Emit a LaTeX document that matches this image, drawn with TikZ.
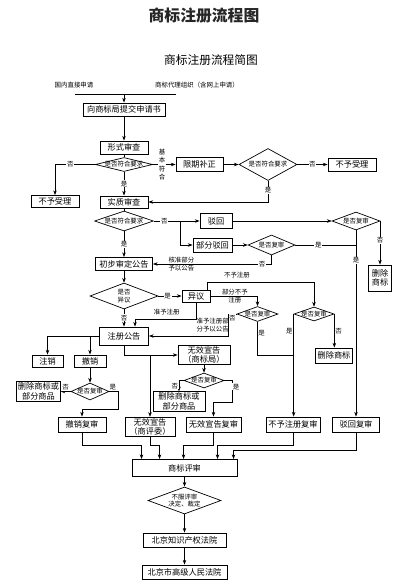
\documentclass[tikz,border=0pt]{standalone}
\usepackage{fontspec}
\setmainfont{Noto Sans CJK SC}
\usetikzlibrary{shapes.geometric,arrows.meta,calc}

\newcommand\titlefont{\fontsize{13.5}{15}\selectfont\bfseries}
\newcommand\subtitlefont{\fontsize{10}{12}\selectfont}
\newcommand\boxfont{\fontsize{7}{8}\selectfont}
\newcommand\labfont{\fontsize{5.5}{7}\selectfont}
\newcommand\dfont{\fontsize{5.5}{6.5}\selectfont}

\tikzset{
  dims/.style 2 args={minimum width=#1*0.03cm, minimum height=#2*0.03cm},
  stepbox/.style={draw, line width=0.8pt, inner sep=1pt, font=\boxfont, align=center},
  judge/.style={diamond, draw, line width=0.6pt, inner sep=0pt,
    label={[font=\dfont, align=center]center:{#1}}},
  lbl/.style={font=\labfont, fill=white, inner sep=0.6pt},
}

\begin{document}
\begin{tikzpicture}[x=0.03cm, y=-0.03cm, >={Stealth[length=4pt,width=3pt]}, line width=0.5pt]
    \useasboundingbox (0,0) rectangle (408,588);
    % Titoli
    \node[font=\titlefont, text=black!85] (title) at (204,16) {商标注册流程图};
    \node[font=\subtitlefont] (subtitle) at (211,60) {商标注册流程简图};
    % Ingresso domande
    \node[font=\labfont] (direct) at (74,85) {国内直接申请};
    \node[font=\labfont] (agency) at (197,85) {商标代理组织（含网上申请）};
    \coordinate (srcL) at (75,94);
    \coordinate (srcR) at (176,94);
    \coordinate (srcM) at (124,94);

    % Blocchi esame
    \node[stepbox, dims={82}{13}] (apply) at (124,109.5) {向商标局提交申请书};
    \node[stepbox, dims={48}{13}] (formal) at (124,147.5) {形式审查};
    \node[judge={是否符合要求}, dims={57}{14}] (d1) at (124,164.5) {};
    \node[stepbox, dims={48}{12}] (reject1) at (55,201.5) {不予受理};
    \node[stepbox, dims={48}{12}] (subst) at (124,202) {实质审查};
    \node[stepbox, dims={47}{14}] (correct) at (199.5,164.5) {限期补正};
    \node[judge={是否符合要求}, dims={58}{32}] (d2) at (268,164.5) {};
    \node[stepbox, dims={48}{13}] (reject2) at (352,164.5) {不予受理};
    \node[judge={是否符合要求}, dims={59}{20}] (d3) at (124,221) {};
    \node[stepbox, dims={32}{15}] (rej) at (216,221) {驳回};
    \node[stepbox, dims={39}{14}] (part) at (212.5,245) {部分驳回};
    \node[judge={是否复审}, dims={48}{18}] (d4) at (356,221) {};
    \node[stepbox, dims={23}{26}] (del1) at (380,278) {删除\\商标};
    \node[judge={是否复审}, dims={47}{20}] (d5) at (271.5,245) {};
    \node[stepbox, dims={57}{13}] (prelim) at (124,264) {初步审定公告};
    \node[judge={是否\\异议}, dims={68}{26}] (d6) at (124,296) {};
    \node[stepbox, dims={28}{12}] (oppose) at (196,296) {异议};
    \node[judge={是否复审}, dims={41}{15}] (d7) at (257.5,314) {};
    \node[judge={是否复审}, dims={40}{14}] (d8) at (314,314) {};
    \node[stepbox, dims={37}{15}] (del2) at (334,355.5) {删除商标};

    % Blocchi registrazione
    \node[stepbox, dims={49}{18}] (reg) at (124,336) {注册公告};
    \node[stepbox, dims={31}{12}] (cancel) at (47.5,361) {注销};
    \node[stepbox, dims={32}{12}] (revoke) at (90,361) {撤销};
    \node[judge={是否复审}, dims={38}{17}] (d9) at (90,391.5) {};
    \node[stepbox, dims={43}{20}] (delA) at (38.5,391.5) {删除商标或\\部分商品};
    \node[stepbox, dims={48}{15}] (revokeRev) at (82,424.5) {撤销复审};
    \node[stepbox, dims={52}{18}] (invalidO) at (204,355) {无效宣告\\（商标局）};
    \node[judge={是否复审}, dims={40}{15}] (d10) at (204,380.5) {};
    \node[stepbox, dims={52}{17}] (delB) at (179,401.5) {删除商标或\\部分商品};
    \node[stepbox, dims={55}{15}] (invalidRev) at (213.5,424.5) {无效宣告复审};
    \node[stepbox, dims={50}{19}] (invalidB) at (150,427) {无效宣告\\（商评委）};
    \node[stepbox, dims={54}{15}] (refuseRev) at (293,424.5) {不予注册复审};
    \node[stepbox, dims={47}{15}] (rejectRev) at (356,424.5) {驳回复审};

    % Blocchi finali
    \node[stepbox, dims={105}{17}] (board) at (184.5,468) {商标评审};
    \node[judge={不服评审\\决定、裁定}, dims={73}{27}] (d11) at (184.5,500.5) {};
    \node[stepbox, dims={83}{14}] (court1) at (184.5,540) {北京知识产权法院};
    \node[stepbox, dims={85}{14}] (court2) at (184.5,572) {北京市高级人民法院};

    % Frecce esame
    \draw (srcL) -- (srcR);
    \draw[->] (srcM) -- (apply);
    \draw[->] (apply) -- (formal);
    \draw (formal) -- (d1);
    \draw[->] (d1.west) -| node[lbl, pos=0.31] {否} (reject1.north);
    \draw[->] (d1.south) -- node[lbl] {是} (subst.north);
    \draw[->] (d1.east) -- (correct.west);
    \node[lbl, align=center] (basic) at (162,164.5) {基\\本\\符\\合};
    \draw[->] (correct) -- (d2);
    \draw[->] (d2) -- node[lbl] {否} (reject2);
    \draw[->] (d2.south) |- node[lbl, pos=0.23] {是} (subst.east);
    \draw (subst) -- (d3);
    \coordinate (split3) at (180,221);
    \draw (d3.east) -- node[lbl, pos=0.4] {否} (split3);
    \draw[->] (split3) -- (rej);
    \draw[->] (split3) |- (part.west);
    \draw[->] (rej) -- (d4);
    \draw[->] (d4.east) -| node[lbl, pos=0.72] {否} (del1.north);
    \draw[->] (d4.south) -- node[lbl, pos=0.16] {是} (d4.south |- rejectRev.north);
    \draw[->] (part) -- (d5);
    \draw (d5.east) -- node[lbl, pos=0.38] {是} (d5.east -| d4.south);
    \draw[->] (d5.south) |- node[lbl, pos=0.54] {否}
        node[font=\labfont, align=center, pos=0.88] {核准部分\\予以公告} (prelim.east);
    \draw[->] (d3.south) -- node[lbl] {是} (prelim);
    \draw[->] (prelim) -- (d6);
    \draw[->] (d6) -- node[lbl, pos=0.4] {是} (oppose);
    \draw[->] (d6.south) -- node[lbl] {否} (reg.north);

    % Frecce opposizione
    \coordinate (refuseUp) at (207,282);
    \draw[->] (refuseUp |- oppose.north) -- (refuseUp) -| node[font=\labfont, above, pos=0.14] {不予注册} (d8.north);
    \draw[->] (oppose.east) -| node[font=\labfont, align=center, pos=0.26] {部分不予\\注册} (d7.north);
    \coordinate (grantBend) at (196,319);
    \draw[->] (oppose.south) -- (grantBend) -| node[font=\labfont, above, pos=0.24] {准予注册} ($(reg.north)+(11,0)$);
    \draw[->] (d7.west) -- ++(-8,0) |- node[font=\labfont, align=center, above, pos=0.6] {准予注册部\\分予以公告} (reg.east);
    \node[lbl, anchor=north east] (no7) at (d7.west) {否};
    \coordinate (joinY) at (0,355);
    \draw (d7.south) -- node[lbl, right, pos=0.35] {是} (d7.south |- joinY) -- (d8.west |- joinY);
    \draw[->] (d8.west) -- node[lbl, left, pos=0.17] {是} (d8.west |- refuseRev.north);
    \draw[->] (d8.east) -- node[lbl, right] {否} (d8.east |- del2.north);

    % Frecce dopo la registrazione
    \draw[->] (reg.south) |- (invalidO.west);
    \draw[->] (invalidB.north |- invalidO.west) -- (invalidB.north);
    \draw[->] (reg.west) -| (cancel.north);
    \draw[->] (reg.west -| revoke.north) -- (revoke.north);
    \draw[->] (revoke) -- (d9);
    \draw[->] (d9.west) -- node[lbl, above] {否} (delA.east);
    \coordinate (revBend) at (118,409);
    \draw[->] (d9.east) -| node[lbl, above, pos=0.2] {是} (revBend) -| (revokeRev.north);
    \draw[->] (invalidO) -- (d10);
    \draw[->] (d10.west) -| node[lbl, left, pos=0.75] {否} (delB.north);
    \coordinate (invBend) at (232,402);
    \draw[->] (d10.east) -| node[lbl, right, pos=0.65] {是} (invBend) -| (invalidRev.north);

    % Raccolta verso la commissione
    \coordinate (busA) at (0,445);
    \coordinate (busB) at (0,450);
    \draw[->] (revokeRev.south) -- (revokeRev.south |- busA) -| ($(board.north west)+(10,0)$);
    \draw[->] (invalidB.south) -- (invalidB.south |- busA) -| ($(board.north west)+(28,0)$);
    \draw[->] (invalidRev.south) -- (invalidRev.south |- busA) -| ($(board.north west)+(52,0)$);
    \draw[->] (refuseRev.south) -- (refuseRev.south |- busA) -| ($(board.north west)+(86,0)$);
    \draw[->] (rejectRev.south) -- (rejectRev.south |- busB) -| ($(board.north west)+(102,0)$);
    \draw[->] (board) -- (d11);
    \draw[->] (d11) -- (court1);
    \draw[->] (court1) -- (court2);
\end{tikzpicture}
\end{document}
